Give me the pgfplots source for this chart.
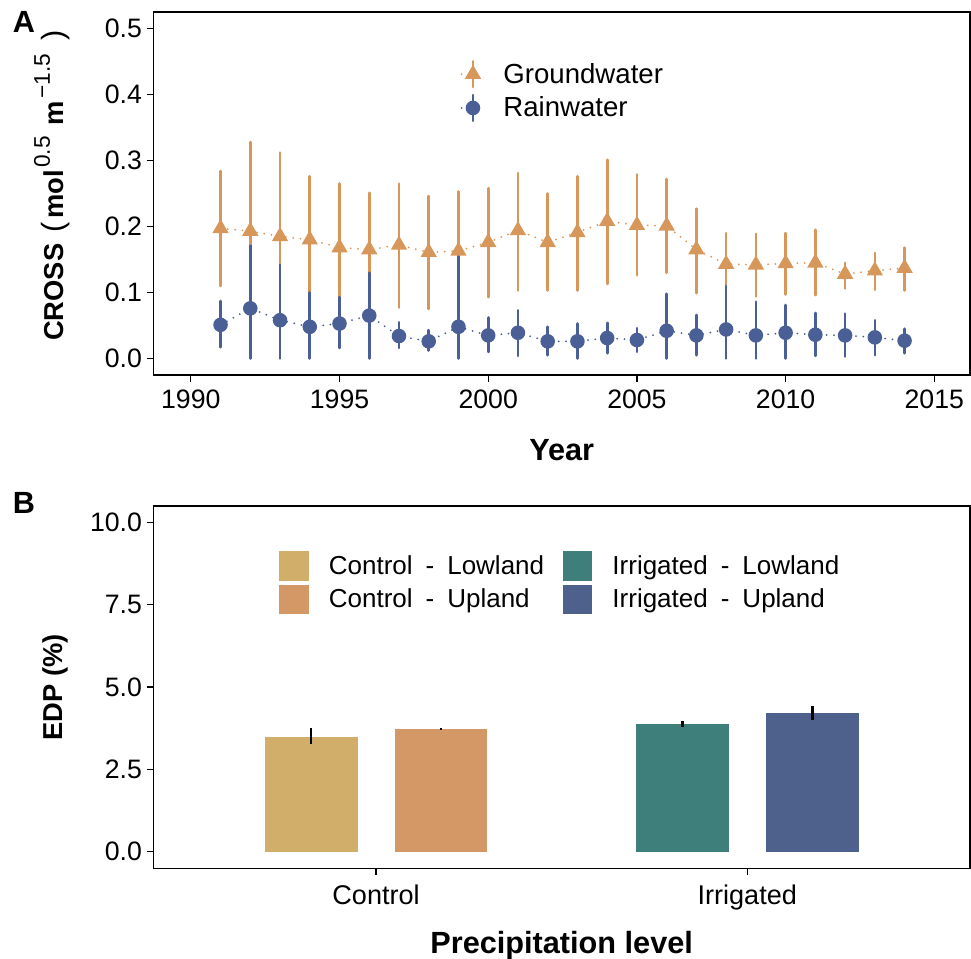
\documentclass[border=0pt]{standalone}
\usepackage{fontspec}
\setmainfont{Liberation Sans}
\usepackage{pgfplots}
\usepackage{pgfplotstable}
\pgfplotsset{compat=1.18}

\definecolor{gw}{HTML}{D8975A}
\definecolor{rw}{HTML}{4B5F97}
\definecolor{cl}{HTML}{D1AE69}
\definecolor{cu}{HTML}{D39866}
\definecolor{il}{HTML}{3F7F7B}
\definecolor{iu}{HTML}{4E618D}

\newcommand\fA{\fontsize{20}{24}\selectfont}
\newcommand\fL{\fontsize{20.7}{24}\selectfont}
\newcommand\fB{\fontsize{19.5}{23}\selectfont}
\newcommand\fBx{\fontsize{20.3}{24}\selectfont}
\newcommand\fT{\fontsize{23}{27}\selectfont\bfseries}
\newcommand\fY{\fontsize{20.5}{24}\selectfont\bfseries}
\newcommand\fP{\fontsize{23}{27}\selectfont\bfseries}
\newcommand\supr[1]{\raisebox{0.5em}{\fontsize{17}{18}\selectfont\mdseries #1}}
\newcommand\pr[1]{{\fontsize{23}{25}\selectfont\mdseries #1}}
\newcommand\dsh{\hspace{0.5em}-\hspace{0.5em}}

\pgfplotstableread{
year y lo hi
1991 0.197 0.110 0.284
1992 0.193 0.055 0.328
1993 0.185 0.058 0.312
1994 0.180 0.080 0.276
1995 0.168 0.069 0.265
1996 0.165 0.077 0.251
1997 0.172 0.077 0.265
1998 0.161 0.075 0.246
1999 0.163 0.072 0.253
2000 0.176 0.093 0.258
2001 0.194 0.103 0.281
2002 0.176 0.103 0.250
2003 0.191 0.103 0.276
2004 0.208 0.113 0.301
2005 0.202 0.126 0.279
2006 0.201 0.130 0.272
2007 0.165 0.099 0.227
2008 0.143 0.097 0.190
2009 0.142 0.094 0.189
2010 0.144 0.097 0.190
2011 0.145 0.096 0.195
2012 0.128 0.106 0.145
2013 0.133 0.104 0.160
2014 0.137 0.103 0.168
}\gwdata

\pgfplotstableread{
year y lo hi
1991 0.051 0.017 0.087
1992 0.076 0.000 0.171
1993 0.058 0.000 0.142
1994 0.048 0.000 0.100
1995 0.053 0.016 0.093
1996 0.065 0.000 0.130
1997 0.034 0.016 0.055
1998 0.026 0.012 0.043
1999 0.048 0.000 0.155
2000 0.035 0.010 0.062
2001 0.039 0.004 0.073
2002 0.026 0.005 0.048
2003 0.026 0.000 0.053
2004 0.031 0.008 0.054
2005 0.028 0.010 0.046
2006 0.042 0.000 0.098
2007 0.035 0.005 0.066
2008 0.044 0.000 0.110
2009 0.035 0.000 0.086
2010 0.039 0.000 0.081
2011 0.036 0.004 0.069
2012 0.035 0.003 0.068
2013 0.032 0.005 0.058
2014 0.027 0.008 0.045
}\rwdata

\pgfplotsset{
  common/.style={
    scale only axis,
    axis line style={line width=1pt, black},
    every tick/.style={black, line width=1pt},
    tick align=outside,
    major tick length=5pt,
    tick pos=left,
    /pgf/number format/assume math mode=true,
    /pgf/number format/1000 sep={},
    y tick label style={/pgf/number format/.cd, fixed, fixed zerofill, precision=1, /tikz/.cd},
  },
}

\begin{document}
\begin{tikzpicture}
\path[use as bounding box] (0,0) rectangle (728.25pt,-719.25pt);

\node[font=\fT, anchor=center] at (18pt,-16.5pt) {A};
\node[font=\fT, anchor=center] at (18pt,-377pt) {B};

\begin{axis}[common,
  at={(115pt,-9pt)}, anchor=north west,
  width=612.5pt, height=272.25pt,
  xmin=1988.74, xmax=2016.2, ymin=-0.025, ymax=0.525,
  xtick={1990,1995,2000,2005,2010,2015},
  ytick={0,0.1,0.2,0.3,0.4,0.5},
  tick label style={font=\fA},
  x tick label style={yshift=-2.5pt},
  xlabel={Year},
  ylabel={CROSS\hspace{0.4em}\pr{(}\hspace{0.15em}mol\hspace{0.08em}\supr{0.5}\hspace{0.4em}m\hspace{0.08em}\supr{−1.5}\hspace{0.5em}\pr{)}},
  xlabel style={font=\fT, at={(axis description cs:0.5,-0.207)}, anchor=center},
  ylabel style={font=\fY, at={(axis description cs:-0.124,0.522)}, anchor=center},
  legend style={draw=none, fill=none, at={(axis description cs:0.371,0.876)}, anchor=north west,
    font=\fL, cells={anchor=west}, row sep=4pt,
    /tikz/every odd column/.style={column sep=16pt}},
  legend image code/.code={
    \draw[#1, mark=none, solid, line width=2pt] (0.3cm,-0.34cm) -- (0.3cm,0.34cm);
    \draw[#1, mark=none] (0cm,0cm) -- (0.12cm,0cm);
    \draw[#1, only marks] plot coordinates {(0.3cm,0cm)};
  },
]
\addplot[gw, line width=1.5pt, dash pattern=on 0pt off 5.5pt, line cap=round,
  mark=triangle*, mark size=5.6pt, mark options={solid, fill=gw, draw=none},
  error bars/.cd, y dir=both, y explicit, error mark=none,
  error bar style={line width=2pt, solid, gw}]
  table[x=year, y=y, y error plus expr=\thisrow{hi}-\thisrow{y}, y error minus expr=\thisrow{y}-\thisrow{lo}] {\gwdata};
\addlegendentry{Groundwater}
\addplot[rw, line width=1.5pt, dash pattern=on 0pt off 5.5pt, line cap=round,
  mark=*, mark size=4.7pt, mark options={solid, fill=rw, draw=none},
  error bars/.cd, y dir=both, y explicit, error mark=none,
  error bar style={line width=2pt, solid, rw}]
  table[x=year, y=y, y error plus expr=\thisrow{hi}-\thisrow{y}, y error minus expr=\thisrow{y}-\thisrow{lo}] {\rwdata};
\addlegendentry{Rainwater}
\end{axis}

\begin{axis}[common,
  at={(115pt,-379.5pt)}, anchor=north west,
  width=612.5pt, height=271.7pt,
  xmin=0.4, xmax=2.6, ymin=-0.5, ymax=10.5,
  xtick={1,2}, xticklabels={Control,Irrigated},
  ytick={0,2.5,5,7.5,10},
  x tick label style={font=\fBx, yshift=-4pt},
  y tick label style={font=\fA},
  xlabel={Precipitation level},
  ylabel={EDP (\%)},
  xlabel style={font=\fP, at={(axis description cs:0.5,-0.212)}, anchor=center},
  ylabel style={font=\fY, at={(axis description cs:-0.12,0.5)}, anchor=center},
  legend columns=2, transpose legend,
  legend style={draw=none, fill=none, at={(axis description cs:0.149,0.884)}, anchor=north west,
    font=\fB, cells={anchor=west}, row sep=3pt,
    /tikz/every odd column/.style={column sep=13pt},
    /tikz/every even column/.style={column sep=12pt}},
  legend image code/.code={\path[#1, draw=none] (0cm,-0.39cm) rectangle (0.78cm,0.39cm);},
  error bars/error bar style={line width=2pt, black, solid},
]
\addplot[ybar, bar width=0.25, bar shift=0pt, fill=cl, draw=none,
  error bars/.cd, y dir=both, y explicit, error mark=none]
  coordinates {(0.825,3.50) += (0,0.26) -= (0,0.23)};
\addlegendentry{Control\dsh Lowland}
\addplot[ybar, bar width=0.25, bar shift=0pt, fill=cu, draw=none,
  error bars/.cd, y dir=both, y explicit, error mark=none]
  coordinates {(1.175,3.73) += (0,0.03) -= (0,0.03)};
\addlegendentry{Control\dsh Upland}
\addplot[ybar, bar width=0.25, bar shift=0pt, fill=il, draw=none,
  error bars/.cd, y dir=both, y explicit, error mark=none]
  coordinates {(1.825,3.89) += (0,0.09) -= (0,0.11)};
\addlegendentry{Irrigated\dsh Lowland}
\addplot[ybar, bar width=0.25, bar shift=0pt, fill=iu, draw=none,
  error bars/.cd, y dir=both, y explicit, error mark=none]
  coordinates {(2.175,4.21) += (0,0.23) -= (0,0.22)};
\addlegendentry{Irrigated\dsh Upland}
\end{axis}
\end{tikzpicture}
\end{document}
